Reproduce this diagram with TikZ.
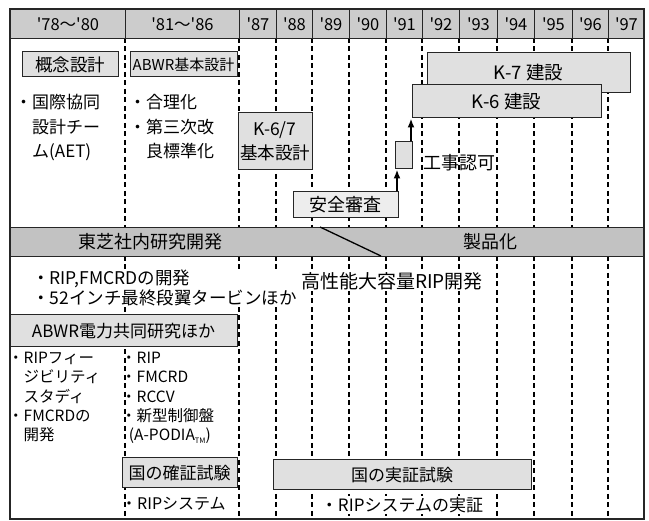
\documentclass[tikz,border=0pt]{standalone}
\usepackage{fontspec}
\setmainfont{Noto Sans CJK JP}[Ligatures=TeXOff]
\usetikzlibrary{arrows.meta}
\definecolor{hdrgray}{gray}{0.80}
\definecolor{boxgray}{gray}{0.88}
\definecolor{bandgray}{gray}{0.76}
\tikzset{
 hdr/.style={draw=black!85, line width=0.9pt, fill=hdrgray, inner sep=0pt, minimum height=29pt, anchor=north west, font=\fontsize{16.5}{18}\selectfont},
 gbox/.style={draw=black!85, line width=1pt, fill=boxgray, inner sep=0pt, align=center},
 dline/.style={draw=black, line width=1.2pt, dash pattern=on 5pt off 3.5pt},
 arr/.style={-{Latex[length=9pt,width=7pt]}, line width=2.2pt},
 txt/.style={inner sep=0pt, align=left, anchor=north west},
 wtxt/.style={inner sep=1pt, fill=white},
}
\begin{document}
\begin{tikzpicture}[x=1pt,y=-1pt]
\useasboundingbox (0,0) rectangle (649,521);
\fill[white] (0,0) rectangle (649,521);
% dashed grid
\foreach \x in {125,239,276,312,349,386,422,459,497,534,572,608}{
  \draw[dline] (\x,38) -- (\x,227);
  \draw[dline] (\x,256) -- (\x,519);
}
% header
\foreach \a/\b/\t [count=\i] in {10/125/{'78～'80},125/239/{'81～'86},239/276/{'87},276/312/{'88},312/349/{'89},349/386/{'90},386/422/{'91},422/459/{'92},459/497/{'93},497/534/{'94},534/572/{'95},572/608/{'96},608/644/{'97}}{
  \node[hdr, minimum width={(\b-\a)*1pt}] (h\i) at (\a,9) {\t};
}
% upper section
\node[gbox, minimum width=96pt, minimum height=25pt, font=\fontsize{17.5}{20}\selectfont] (gainen) at (70,64.5) {概念設計};
\node[gbox, minimum width=107pt, minimum height=25pt, font=\fontsize{15}{18}\selectfont] (abwrk) at (183.5,64.5) {ABWR基本設計};
\node[txt, font=\fontsize{17}{24.5}\selectfont] (aet) at (15,94.5) {・国際協同\\\hspace*{1em}設計チー\\\hspace*{1em}ム(AET)};
\node[txt, font=\fontsize{17}{24.5}\selectfont] (gouri) at (129,94.5) {・合理化\\・第三次改\\\hspace*{1em}良標準化};
\node[gbox, minimum width=74pt, minimum height=57pt, font=\fontsize{17.5}{24}\selectfont] (k67) at (275,141.5) {K-6/7\\基本設計};
\node[gbox, fill=black!7, minimum width=105pt, minimum height=26pt, font=\fontsize{18}{20}\selectfont] (anzen) at (345.5,205) {安全審査};
\node[gbox, minimum width=17pt, minimum height=27pt] (kyoka) at (403.5,155.5) {};
\node[inner sep=0pt, font=\fontsize{18}{20}\selectfont] (kyokat) at (459,163) {工事認可};
\node[gbox, minimum width=203pt, minimum height=40pt, font=\fontsize{18.5}{20}\selectfont] (k7) at (528.5,73) {K-7 建設};
\node[gbox, minimum width=189pt, minimum height=33pt, font=\fontsize{18.5}{20}\selectfont] (k6) at (506.5,101.5) {K-6 建設};
\coordinate (a1) at ([xshift=-1.5pt]anzen.north east);
\coordinate (a2) at ([xshift=-1.5pt]kyoka.north east);
\draw[arr] (a1) -- (a1 |- kyoka.south);
\draw[arr] (a2) -- (a2 |- k6.south);
% band
\node[draw=black!85, line width=0.9pt, fill=bandgray, minimum width=634pt, minimum height=29pt, inner sep=0pt] (band) at (327,241.5) {};
\draw[line width=1.3pt] (320,227) -- (381,256);
\node[inner sep=0pt, font=\fontsize{18}{20}\selectfont] (toshiba) at (150,241.5) {東芝社内研究開発};
\node[inner sep=0pt, font=\fontsize{18}{20}\selectfont] (seihin) at (490,241.5) {製品化};
% lower section
\node[txt, wtxt, font=\fontsize{17.5}{20}\selectfont] (rip) at (31,268.5) {・RIP,FMCRDの開発\\・52インチ最終段翼タービンほか};
\node[wtxt, font=\fontsize{19}{20}\selectfont] (koseino) at (392,281) {高性能大容量RIP開発};
\node[gbox, minimum width=227pt, minimum height=32pt, font=\fontsize{17}{20}\selectfont] (abwrd) at (123.5,331) {ABWR電力共同研究ほか};
\node[txt, font=\fontsize{15.5}{19.3}\selectfont] (leftc) at (8,352) {・RIPフィー\\\hspace*{1em}ジビリティ\\\hspace*{1em}スタディ\\・FMCRDの\\\hspace*{1em}開発};
\node[txt, font=\fontsize{15.5}{19.3}\selectfont] (midc) at (121,352) {・RIP\\・FMCRD\\・RCCV\\・新型制御盤\\\hspace*{0.5em}(A-PODIA{\fontsize{7.5}{8}\selectfont\raisebox{-2.5pt}{TM}})};
\node[gbox, minimum width=115pt, minimum height=30pt, font=\fontsize{17}{20}\selectfont] (kakusho) at (179.5,473) {国の確証試験};
\node[txt, font=\fontsize{16}{20}\selectfont] (ripsys) at (121,497) {・RIPシステム};
\node[gbox, minimum width=258pt, minimum height=30pt, font=\fontsize{17}{20}\selectfont] (jissho) at (402,475) {国の実証試験};
\node[wtxt, font=\fontsize{17}{20}\selectfont] (ripjs) at (402,505) {・RIPシステムの実証};
% frame
\draw[line width=1.1pt, black!85] (10,9) rectangle (644,519);
\end{tikzpicture}
\end{document}
